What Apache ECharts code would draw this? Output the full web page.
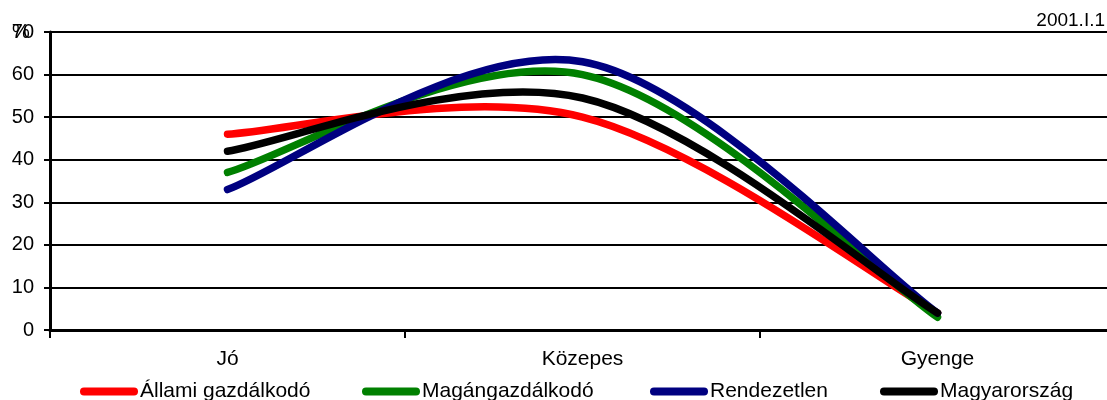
<!DOCTYPE html>
<html>
<head>
<meta charset="utf-8">
<script src="https://cdn.jsdelivr.net/npm/echarts@6/dist/echarts.min.js"></script>
<style>
  html, body { margin: 0; padding: 0; background: #fff; }
  #chart { width: 1107px; height: 400px; }
</style>
</head>
<body>
<div id="chart"></div>
<script>
// kategóriák és sorozatok
var categories = ['Jó', 'Közepes', 'Gyenge'];
var seriesNames = ['Állami gazdálkodó', 'Magángazdálkodó', 'Rendezetlen', 'Magyarország'];
var allami = [46, 50, 4];
var magan = [37, 60, 3];
var rendezetlen = [33, 63, 4];
var magyarorszag = [42, 54.5, 4];
var colors = ['#ff0000', '#008000', '#000080', '#000000'];

var font = 'Arial, "Liberation Sans", sans-serif';
var pill = 'path://M4,0 H54 A4,4 0 0 1 54,8 H4 A4,4 0 0 1 4,0 Z';

// Excel-szerű simított vonal (Bezier, 1/6-os érintők) a tengelyek koordinátáiból
function makeLine(name, values, color) {
  return {
    name: name,
    type: 'custom',
    data: values.map(function (v, i) { return [i, v]; }),
    encode: { x: 0, y: 1 },
    itemStyle: { color: color },
    renderItem: function (params, api) {
      if (params.dataIndex !== 0) return;
      var p = values.map(function (v, i) { return api.coord([i, v]); });
      var n = p.length;
      var d = 'M' + p[0][0] + ',' + p[0][1];
      for (var i = 0; i < n - 1; i++) {
        var a = p[Math.max(i - 1, 0)], b = p[i], c = p[i + 1], e = p[Math.min(i + 2, n - 1)];
        var c1x = b[0] + (c[0] - a[0]) / 6, c1y = b[1] + (c[1] - a[1]) / 6;
        var c2x = c[0] - (e[0] - b[0]) / 6, c2y = c[1] - (e[1] - b[1]) / 6;
        d += ' C' + c1x + ',' + c1y + ' ' + c2x + ',' + c2y + ' ' + c[0] + ',' + c[1];
      }
      return {
        type: 'path',
        shape: { pathData: d },
        style: { fill: null, stroke: color, lineWidth: 7.5, lineCap: 'round', lineJoin: 'round' }
      };
    }
  };
}

function makeLegend(name, left) {
  return {
    data: [name],
    left: left,
    top: 381,
    icon: pill,
    itemWidth: 58,
    itemHeight: 8,
    padding: 0,
    textStyle: { fontFamily: font, fontSize: 21, color: '#000', padding: [0, 0, 0, -3] }
  };
}

var myChart = echarts.init(document.getElementById('chart'));

var option = {
  animation: false,
  grid: { left: 50, width: 1065, top: 32, bottom: 70, outerBoundsMode: 'none' },
  legend: [
    makeLegend(seriesNames[0], 80),
    makeLegend(seriesNames[1], 362),
    makeLegend(seriesNames[2], 650),
    makeLegend(seriesNames[3], 880)
  ],
  graphic: [
    { type: 'text', left: 12, top: 22, style: { text: '%', font: '20px ' + font, fill: '#000' } },
    { type: 'text', right: 2, top: 11, style: { text: '2001.I.1', font: '19px ' + font, fill: '#000' } }
  ],
  xAxis: {
    type: 'category',
    data: categories,
    boundaryGap: true,
    axisLine: { lineStyle: { color: '#000', width: 3 } },
    axisTick: { show: true, length: 8, lineStyle: { color: '#000', width: 2 } },
    axisLabel: { fontFamily: font, fontSize: 21, color: '#000', margin: 19 },
    splitLine: { show: false }
  },
  yAxis: {
    type: 'value',
    min: 0,
    max: 70,
    interval: 10,
    axisLine: { show: true, lineStyle: { color: '#000', width: 3 } },
    axisTick: { show: true, length: 6, lineStyle: { color: '#000', width: 2 } },
    axisLabel: { fontFamily: font, fontSize: 20, color: '#000', margin: 16 },
    splitLine: { show: true, lineStyle: { color: '#000', width: 2 } }
  },
  series: [
    makeLine(seriesNames[0], allami, colors[0]),
    makeLine(seriesNames[1], magan, colors[1]),
    makeLine(seriesNames[2], rendezetlen, colors[2]),
    makeLine(seriesNames[3], magyarorszag, colors[3])
  ]
};

myChart.setOption(option);
</script>
</body>
</html>
